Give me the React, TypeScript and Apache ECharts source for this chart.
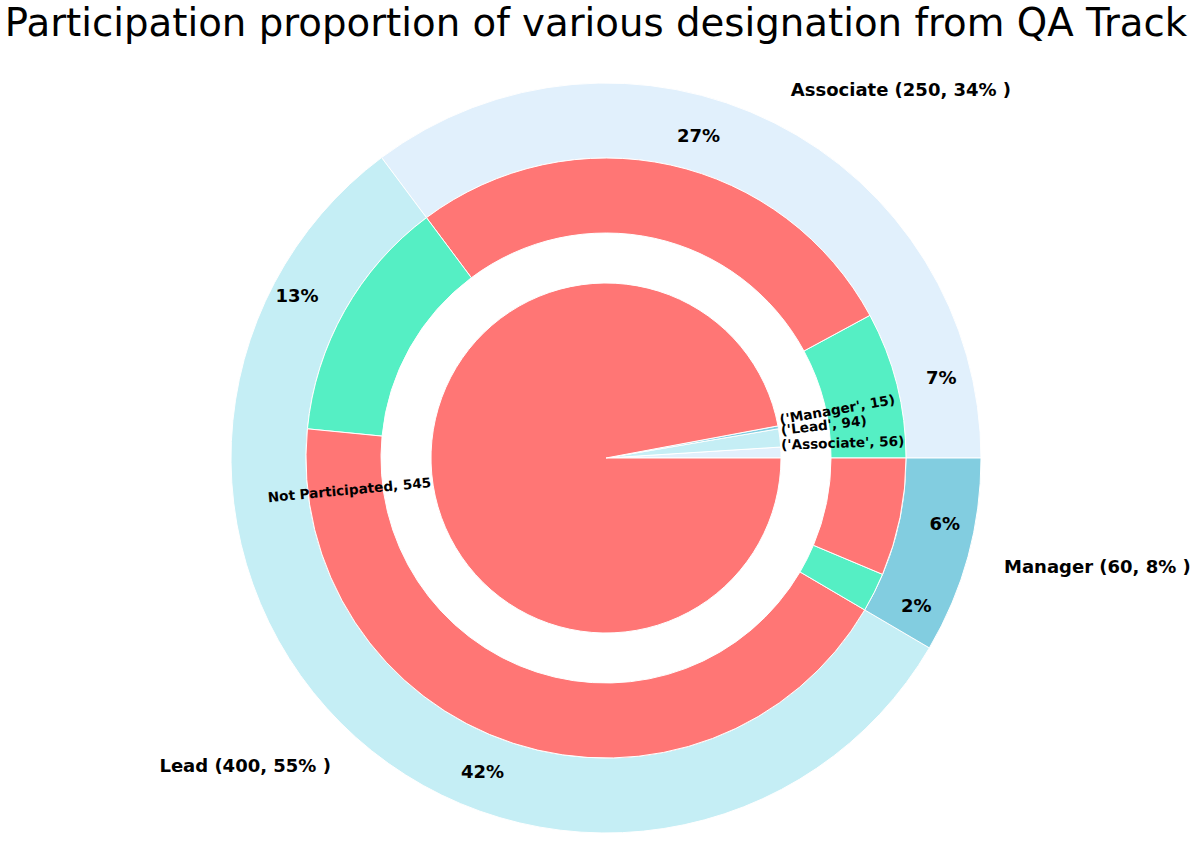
import React, { useEffect, useRef } from "react";
import * as echarts from "echarts";

// ---- data ----
const designations = ["Associate", "Lead", "Manager"];
const designationTotals = [250, 400, 60];
const designationShares = [34, 55, 8]; // printed share (%) of each designation
const participated = [56, 94, 15];
const notParticipated = [194, 306, 45];
// printed share (%) for each sub-slice, in ring order: participated, not participated per designation
const subgroupShares = [7, 27, 13, 42, 2, 6];
const notParticipatedLabel = "Not Participated";
const notParticipatedTotal = 545;
// participated slices of the centre pie are drawn at a tenth of their head count
const participatedPieWeight = 0.1;

// ---- styling ----
const designationColors = ["#e1f0fc", "#c5eef5", "#82cde0"];
const participatedColor = "#55efc4";
const notParticipatedColor = "#ff7675";
const FONT = "DejaVu Sans";
const TITLE = "Participation proportion of various designation from QA Track";

// ---- geometry (px) ----
const CX = 606;
const CY = 458;
const R_OUTER = 375;
const R_MID = 300;
const R_MID_IN = 225;
const R_INNER = 175;
const LABEL_DISTANCE = 1.1;

function midAngles(values: number[]): number[] {
  const total = values.reduce((a, b) => a + b, 0);
  let acc = 0;
  return values.map((v) => {
    const mid = ((acc + v / 2) / total) * 360;
    acc += v;
    return mid;
  });
}

function polar(r: number, deg: number): [number, number] {
  const a = (deg * Math.PI) / 180;
  return [CX + r * Math.cos(a), CY - r * Math.sin(a)];
}

let measureCtx: CanvasRenderingContext2D | null = null;
function textWidth(text: string, font: string): number {
  if (!measureCtx) measureCtx = document.createElement("canvas").getContext("2d");
  measureCtx!.font = font;
  return measureCtx!.measureText(text).width;
}

// bold label placed beside a ring, left- or right-aligned depending on its side
function sideLabel(text: string, radius: number, deg: number) {
  const [x, y] = polar(radius, deg);
  const right = Math.cos((deg * Math.PI) / 180) >= 0;
  return {
    type: "text",
    x,
    y,
    z: 100,
    style: {
      text,
      fontFamily: FONT,
      fontSize: 18,
      fontWeight: "bold",
      fill: "#000",
      align: right ? "left" : "right",
      textAlign: right ? "left" : "right",
      verticalAlign: "middle",
      textVerticalAlign: "middle",
    },
  };
}

function buildOption() {
  const outerData = designations.map((name, i) => ({
    name,
    value: designationTotals[i],
    itemStyle: { color: designationColors[i] },
  }));

  const middleValues: number[] = [];
  const middleData: any[] = [];
  designations.forEach((name, i) => {
    middleValues.push(participated[i], notParticipated[i]);
    middleData.push(
      { name: `${name} participated`, value: participated[i], itemStyle: { color: participatedColor } },
      { name: `${name} not participated`, value: notParticipated[i], itemStyle: { color: notParticipatedColor } }
    );
  });

  const innerLabels = designations.map((name, i) => `('${name}', ${participated[i]})`);
  innerLabels.push(`${notParticipatedLabel}, ${notParticipatedTotal}`);
  const innerValues = participated.map((v) => v * participatedPieWeight).concat([notParticipatedTotal]);
  const innerColors = designationColors.concat([notParticipatedColor]);
  const innerData = innerValues.map((value, i) => ({
    name: innerLabels[i],
    value,
    itemStyle: { color: innerColors[i] },
  }));

  const graphics: any[] = [];

  // designation labels outside the outer ring
  midAngles(designationTotals).forEach((deg, i) => {
    graphics.push(
      sideLabel(
        `${designations[i]} (${designationTotals[i]}, ${designationShares[i]}% )`,
        R_OUTER * LABEL_DISTANCE,
        deg
      )
    );
  });

  // percentages for the participation ring
  midAngles(middleValues).forEach((deg, i) => {
    graphics.push(sideLabel(`${subgroupShares[i]}%`, R_MID * LABEL_DISTANCE, deg));
  });

  // rotated labels on the centre pie
  const innerFontSize = 13.6;
  const innerFont = `bold ${innerFontSize}px "${FONT}"`;
  midAngles(innerValues).forEach((deg, i) => {
    const rad = (deg * Math.PI) / 180;
    const [ax, ay] = polar(R_INNER, deg);
    const right = Math.cos(rad) > 0;
    const above = Math.sin(rad) > 0;
    const rot = right ? deg : deg + 180;
    const rr = (rot * Math.PI) / 180;
    const w = textWidth(innerLabels[i], innerFont);
    const h = innerFontSize * 1.17;
    const W = w * Math.abs(Math.cos(rr)) + h * Math.abs(Math.sin(rr));
    const H = w * Math.abs(Math.sin(rr)) + h * Math.abs(Math.cos(rr));
    graphics.push({
      type: "text",
      x: ax + (right ? W / 2 : -W / 2),
      y: ay + (above ? -H / 2 : H / 2),
      rotation: rr,
      z: 100,
      style: {
        text: innerLabels[i],
        fontFamily: FONT,
        fontSize: innerFontSize,
        fontWeight: "bold",
        fill: "#000",
        align: "center",
        textAlign: "center",
        verticalAlign: "middle",
        textVerticalAlign: "middle",
      },
    });
  });

  graphics.push({
    type: "text",
    x: 596,
    y: 22,
    z: 100,
    style: {
      text: TITLE,
      fontFamily: FONT,
      fontSize: 38.7,
      fontWeight: "normal",
      fill: "#000",
      align: "center",
      textAlign: "center",
      verticalAlign: "middle",
      textVerticalAlign: "middle",
    },
  });

  const ring = (radius: any, data: any[]) => ({
    type: "pie",
    center: [CX, CY],
    radius,
    startAngle: 0,
    clockwise: false,
    silent: true,
    avoidLabelOverlap: false,
    minAngle: 0,
    label: { show: false },
    labelLine: { show: false },
    emphasis: { disabled: true },
    itemStyle: { borderColor: "#ffffff", borderWidth: 1 },
    data,
  });

  return {
    animation: false,
    backgroundColor: "#ffffff",
    series: [
      ring([R_MID, R_OUTER], outerData),
      ring([R_MID_IN, R_MID], middleData),
      ring([0, R_INNER], innerData),
    ],
    graphic: { elements: graphics },
  };
}

export default function App() {
  const ref = useRef<HTMLDivElement>(null);
  useEffect(() => {
    if (!ref.current) return;
    const chart = echarts.init(ref.current, undefined, { renderer: "svg" });
    chart.setOption(buildOption() as any);
    return () => chart.dispose();
  }, []);
  return (
    <div
      ref={ref}
      style={{ position: "fixed", left: 0, top: 0, width: 1200, height: 843, background: "#fff" }}
    />
  );
}
